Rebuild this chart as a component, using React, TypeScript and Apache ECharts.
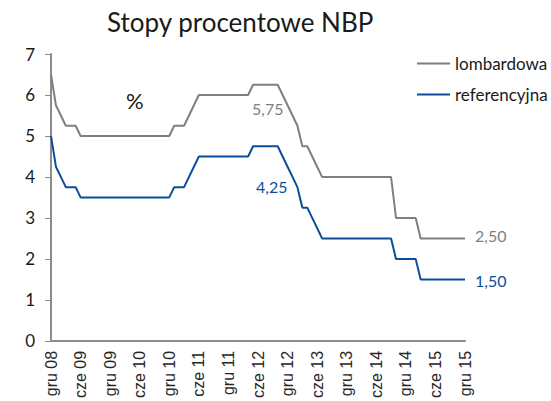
import React, { useEffect, useRef } from "react";
import * as echarts from "echarts";

const MONTHS = ["sty", "lut", "mar", "kwi", "maj", "cze", "lip", "sie", "wrz", "paź", "lis", "gru"];
const categories: string[] = ["gru 08"];
for (let y = 9; y <= 15; y++) {
  for (let m = 0; m < 12; m++) {
    categories.push(MONTHS[m] + " " + (y < 10 ? "0" + y : String(y)));
  }
}

// Dec 2008 .. Dec 2015, month-end
const lombardowa = [
  6.5,
  5.75, 5.5, 5.25, 5.25, 5.25, 5.0, 5.0, 5.0, 5.0, 5.0, 5.0, 5.0,
  5.0, 5.0, 5.0, 5.0, 5.0, 5.0, 5.0, 5.0, 5.0, 5.0, 5.0, 5.0,
  5.25, 5.25, 5.25, 5.5, 5.75, 6.0, 6.0, 6.0, 6.0, 6.0, 6.0, 6.0,
  6.0, 6.0, 6.0, 6.0, 6.25, 6.25, 6.25, 6.25, 6.25, 6.25, 6.0, 5.75,
  5.5, 5.25, 4.75, 4.75, 4.5, 4.25, 4.0, 4.0, 4.0, 4.0, 4.0, 4.0,
  4.0, 4.0, 4.0, 4.0, 4.0, 4.0, 4.0, 4.0, 4.0, 3.0, 3.0, 3.0,
  3.0, 3.0, 2.5, 2.5, 2.5, 2.5, 2.5, 2.5, 2.5, 2.5, 2.5, 2.5,
];

const referencyjna = [
  5.0,
  4.25, 4.0, 3.75, 3.75, 3.75, 3.5, 3.5, 3.5, 3.5, 3.5, 3.5, 3.5,
  3.5, 3.5, 3.5, 3.5, 3.5, 3.5, 3.5, 3.5, 3.5, 3.5, 3.5, 3.5,
  3.75, 3.75, 3.75, 4.0, 4.25, 4.5, 4.5, 4.5, 4.5, 4.5, 4.5, 4.5,
  4.5, 4.5, 4.5, 4.5, 4.75, 4.75, 4.75, 4.75, 4.75, 4.75, 4.5, 4.25,
  4.0, 3.75, 3.25, 3.25, 3.0, 2.75, 2.5, 2.5, 2.5, 2.5, 2.5, 2.5,
  2.5, 2.5, 2.5, 2.5, 2.5, 2.5, 2.5, 2.5, 2.5, 2.0, 2.0, 2.0,
  2.0, 2.0, 1.5, 1.5, 1.5, 1.5, 1.5, 1.5, 1.5, 1.5, 1.5, 1.5,
];

const LABEL_MID = 48; // gru 12
const GREY = "#7f7f7f";
const BLUE = "#0b4d9c";
const HFONT = "Lato";

const fmt = (v: number) => v.toFixed(2).replace(".", ",");

function buildData(values: number[], color: string, midLabel: any, endLabel: any) {
  const last = values.length - 1;
  return values.map((v, i) => {
    if (i === LABEL_MID) {
      return { value: v, label: { show: true, color, fontSize: 16, fontFamily: HFONT, formatter: () => fmt(v), ...midLabel } };
    }
    if (i === last) {
      return { value: v, label: { show: true, color, fontSize: 16, fontFamily: HFONT, formatter: () => fmt(v), ...endLabel } };
    }
    return v;
  });
}

export default function App() {
  const ref = useRef<HTMLDivElement>(null);
  useEffect(() => {
    if (!ref.current) return;
    const chart = echarts.init(ref.current, null, { renderer: "svg" });
    chart.setOption({
      animation: false,
      backgroundColor: "#ffffff",
      title: {
        text: "Stopy procentowe NBP",
        left: 102,
        top: 4,
        textStyle: { fontFamily: HFONT, fontSize: 26, fontWeight: "normal", color: "#1a1a1a" },
      },
      legend: {
        orient: "vertical",
        left: 417,
        top: 55,
        padding: 0,
        icon: "rect",
        itemWidth: 33,
        itemHeight: 2,
        itemGap: 14,
        textStyle: { fontFamily: HFONT, fontSize: 17, color: "#1a1a1a", lineHeight: 16 },
        data: ["lombardowa", "referencyjna"],
      },
      graphic: [
        {
          type: "text",
          left: 126,
          top: 89,
          style: { text: "%", fontFamily: HFONT, fontSize: 22, fill: "#1a1a1a" },
        },
      ],
      grid: { left: 51, right: 86, top: 54, bottom: 58, containLabel: false },
      xAxis: {
        type: "category",
        data: categories,
        boundaryGap: false,
        axisLine: { lineStyle: { color: "#8c8c8c", width: 2 } },
        axisTick: { show: false },
        axisLabel: {
          interval: 5,
          rotate: 90,
          margin: 10,
          fontFamily: "Liberation Sans",
          fontSize: 16,
          color: "#262626",
        },
        splitLine: { show: false },
      },
      yAxis: {
        type: "value",
        min: 0,
        max: 7,
        interval: 1,
        axisLine: { show: true, lineStyle: { color: "#8c8c8c", width: 2 } },
        axisTick: { show: true, length: 6, lineStyle: { color: "#8c8c8c", width: 1 } },
        axisLabel: { margin: 16, fontFamily: HFONT, fontSize: 17, color: "#1a1a1a" },
        splitLine: { show: false },
      },
      series: [
        {
          name: "lombardowa",
          type: "line",
          data: buildData(lombardowa, GREY, { position: "left", distance: 4, offset: [0, 3] }, { position: "right", distance: 10, offset: [0, -3] }),
          symbol: "circle",
          symbolSize: 0,
          showSymbol: true,
          lineStyle: { color: GREY, width: 2 },
          itemStyle: { color: GREY },
        },
        {
          name: "referencyjna",
          type: "line",
          data: buildData(referencyjna, BLUE, { position: "left", distance: 0, offset: [0, 20] }, { position: "right", distance: 10, offset: [0, 1] }),
          symbol: "circle",
          symbolSize: 0,
          showSymbol: true,
          lineStyle: { color: BLUE, width: 2 },
          itemStyle: { color: BLUE },
        },
      ],
    });
    return () => chart.dispose();
  }, []);
  return <div ref={ref} style={{ width: 551, height: 401, position: "absolute", left: 0, top: 0 }} />;
}
